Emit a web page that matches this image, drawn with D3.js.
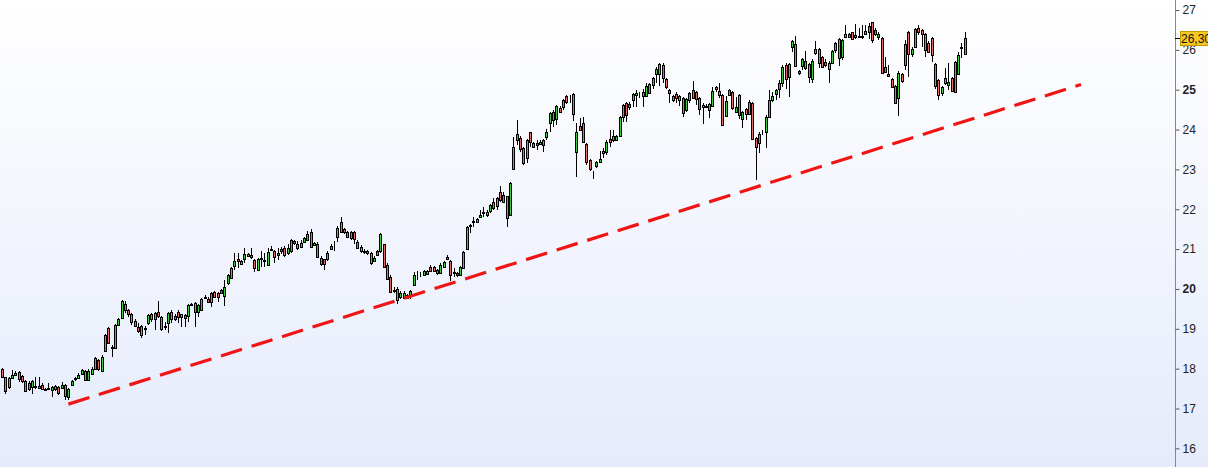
<!DOCTYPE html>
<html><head><meta charset="utf-8">
<script src="https://cdn.jsdelivr.net/npm/d3@7"></script>
<style>html,body{margin:0;padding:0;background:#fff;overflow:hidden}svg{display:block}</style>
</head><body>
<svg id="chart" width="1208" height="467"></svg>
<script>
const open = [
17.99,17.78,17.54,17.77,17.85,17.91,17.81,17.69,17.48,17.55,
17.55,17.52,17.60,17.49,17.48,17.46,17.56,17.54,17.52,17.60,
17.30,17.60,17.73,17.76,17.86,17.94,17.72,17.86,17.98,18.21,
17.94,18.45,19.03,18.53,18.53,19.10,19.28,19.62,19.47,19.37,
19.20,19.05,19.07,18.99,19.14,19.24,19.39,19.41,19.30,19.07,
19.14,19.43,19.25,19.41,19.36,19.34,19.32,19.62,19.64,19.43,
19.47,19.77,19.76,19.66,19.93,19.89,19.91,19.83,20.14,20.27,
20.58,20.74,20.70,20.74,20.88,20.86,20.73,20.48,20.77,20.71,
20.60,20.97,20.95,20.86,20.94,21.04,20.89,21.23,21.21,21.14,
21.06,21.18,21.37,21.42,21.10,21.12,20.78,20.74,20.74,21.01,
21.12,21.31,21.67,21.50,21.42,21.42,21.42,21.17,21.06,20.96,
20.95,20.89,20.71,20.85,20.94,21.12,20.60,20.31,19.97,20.01,
19.79,19.78,19.85,19.86,20.10,20.40,20.39,20.35,20.38,20.54,
20.54,20.47,20.41,20.56,20.74,20.70,20.42,20.41,20.35,20.53,
21.00,21.57,21.69,21.75,21.81,21.92,21.94,21.96,22.17,22.08,
22.44,22.36,22.32,21.86,23.01,23.90,23.80,23.53,23.29,23.93,
23.65,23.62,23.64,23.60,23.81,24.17,24.45,24.26,24.55,24.57,
24.84,24.78,24.88,23.43,24.09,24.17,23.64,23.24,22.87,23.09,
23.18,23.40,23.43,23.76,23.84,23.75,23.85,24.32,24.66,24.56,
24.73,24.87,24.85,24.93,24.85,25.14,25.12,25.39,25.39,25.62,
25.26,25.00,24.83,24.88,24.83,24.78,24.49,24.74,25.00,24.93,
24.78,24.56,24.59,24.49,24.60,25.06,24.97,24.87,24.35,24.87,
24.93,24.45,24.86,24.26,24.51,24.39,24.66,23.78,23.65,23.90,
23.95,24.31,24.74,24.89,25.18,25.18,25.62,25.31,26.06,26.14,
25.47,25.59,25.72,25.64,25.26,25.91,26.01,25.82,25.62,25.51,
25.68,26.00,26.26,25.83,26.31,26.33,26.44,26.31,26.35,26.33,
26.47,26.44,26.69,26.50,26.31,26.29,25.56,25.39,25.27,25.09,
24.78,25.39,25.62,26.44,25.89,26.06,26.54,26.51,26.40,26.18,
26.29,25.64,25.24,24.91,25.29,25.12,25.30,24.95,25.39,26.04,
25.89];

const high = [
18.02,17.80,17.80,17.97,17.93,17.93,17.85,17.72,17.68,17.71,
17.79,17.78,17.65,17.52,17.65,17.56,17.58,17.56,17.66,17.62,
17.52,17.72,17.80,17.88,17.98,17.96,17.98,18.03,18.30,18.23,
18.34,18.86,19.05,18.59,19.11,19.26,19.73,19.70,19.50,19.40,
19.25,19.14,19.10,19.06,19.38,19.39,19.41,19.70,19.33,19.18,
19.42,19.47,19.36,19.47,19.38,19.36,19.62,19.65,19.66,19.62,
19.78,19.84,19.79,19.93,19.96,19.92,20.00,20.22,20.38,20.54,
20.89,20.91,20.72,21.02,20.90,21.02,20.76,20.78,20.94,20.89,
21.02,21.08,20.98,21.02,21.05,21.07,21.13,21.26,21.24,21.20,
21.22,21.30,21.45,21.50,21.19,21.19,20.83,20.76,20.94,21.14,
21.21,21.57,21.81,21.53,21.46,21.45,21.45,21.22,21.10,21.00,
20.98,20.92,20.82,20.98,21.41,21.14,20.64,20.35,20.05,20.05,
19.95,19.94,19.88,19.98,20.43,20.46,20.43,20.47,20.48,20.60,
20.57,20.50,20.64,20.71,20.84,20.73,20.52,20.43,20.57,20.95,
21.59,21.64,21.81,21.78,21.98,22.06,21.97,22.14,22.27,22.31,
22.58,22.44,22.34,22.69,23.82,24.24,23.83,23.56,23.77,23.95,
23.68,23.74,23.73,23.77,24.01,24.45,24.48,24.61,24.58,24.76,
24.87,24.87,24.92,24.16,24.28,24.31,23.67,23.27,22.97,23.21,
23.46,23.53,23.75,23.99,23.99,23.87,24.34,24.65,24.69,24.70,
24.91,24.99,24.95,25.01,25.18,25.17,25.32,25.58,25.66,25.66,
25.29,25.03,24.86,24.93,24.86,24.82,24.79,24.95,25.23,24.96,
24.81,24.66,24.63,24.67,25.08,25.09,25.18,24.90,24.83,25.01,
24.96,24.81,24.89,24.46,24.54,24.74,24.69,23.81,23.93,24.00,
24.36,24.99,24.95,25.02,25.24,25.62,25.68,25.67,26.25,26.35,
25.50,25.79,25.98,25.67,25.76,26.23,26.04,25.85,25.76,25.71,
26.00,26.20,26.29,26.28,26.62,26.43,26.46,26.65,26.54,26.62,
26.62,26.68,26.71,26.54,26.44,26.32,25.83,25.62,25.30,25.12,
25.46,25.42,26.25,26.47,26.06,26.56,26.62,26.53,26.43,26.21,
26.32,25.67,25.27,25.09,25.54,25.68,25.33,25.72,25.95,26.16,
26.45];

const low = [
17.78,17.36,17.50,17.74,17.83,17.66,17.65,17.43,17.45,17.36,
17.50,17.50,17.48,17.45,17.47,17.28,17.45,17.35,17.50,17.22,
17.21,17.57,17.70,17.73,17.84,17.70,17.70,17.83,17.96,17.95,
17.92,18.42,18.62,18.30,18.50,19.08,19.25,19.40,19.30,19.10,
19.05,18.89,18.76,18.84,19.10,19.18,18.97,19.28,18.94,18.97,
18.89,19.14,19.20,19.14,19.05,19.04,19.18,19.56,19.04,19.30,
19.45,19.75,19.65,19.54,19.78,19.66,19.88,19.58,20.10,20.24,
20.48,20.52,20.60,20.64,20.80,20.76,20.42,20.45,20.56,20.56,
20.58,20.95,20.66,20.73,20.88,20.81,20.86,20.91,21.10,20.98,
21.03,21.15,21.20,21.03,21.07,20.79,20.57,20.48,20.71,20.98,
20.96,21.17,21.41,21.39,21.28,21.24,21.12,21.00,20.90,20.87,
20.85,20.61,20.68,20.82,20.91,20.53,20.22,19.90,19.90,19.62,
19.76,19.75,19.76,19.74,20.07,20.22,20.30,20.33,20.36,20.43,
20.43,20.36,20.38,20.53,20.72,20.19,20.31,20.30,20.33,20.50,
20.97,21.40,21.55,21.66,21.77,21.80,21.81,21.91,21.98,21.98,
22.19,22.16,21.56,21.83,22.98,23.61,23.44,23.11,23.15,23.57,
23.54,23.49,23.61,23.43,23.74,23.95,24.07,24.12,24.42,24.50,
24.65,24.66,24.22,22.82,23.96,23.65,23.11,22.97,22.75,23.03,
23.15,23.28,23.36,23.57,23.70,23.72,23.82,24.20,24.20,24.49,
24.57,24.57,24.78,24.56,24.83,24.88,25.01,25.16,25.09,25.16,
25.03,24.67,24.68,24.66,24.59,24.32,24.45,24.66,24.76,24.62,
24.37,24.14,24.53,24.28,24.58,24.95,24.78,24.09,24.32,24.83,
24.50,24.41,24.26,24.03,24.24,24.36,23.74,22.73,23.40,23.86,
23.53,24.29,24.70,24.74,24.78,25.08,25.03,24.81,25.95,25.58,
25.38,25.49,25.49,25.16,25.16,25.88,25.54,25.54,25.58,25.18,
25.66,25.91,25.60,25.75,26.29,26.30,26.25,26.26,26.29,26.27,
26.38,26.26,26.16,26.35,26.25,25.41,25.42,25.31,25.06,24.66,
24.34,25.18,25.49,25.33,25.83,26.04,26.37,26.06,25.83,25.91,
25.70,25.03,24.74,24.83,25.12,24.98,24.95,24.93,25.37,25.79,
25.87];

const close = [
17.80,17.44,17.77,17.85,17.90,17.75,17.70,17.45,17.64,17.69,
17.56,17.57,17.50,17.47,17.51,17.54,17.48,17.38,17.60,17.31,
17.50,17.68,17.76,17.83,17.96,17.72,17.95,17.99,18.27,17.98,
18.30,18.84,18.65,18.55,19.09,19.24,19.70,19.47,19.37,19.16,
19.08,18.94,18.84,19.03,19.35,19.36,19.24,19.32,18.99,19.04,
19.39,19.24,19.32,19.30,19.30,19.28,19.60,19.59,19.43,19.60,
19.75,19.81,19.67,19.91,19.81,19.81,19.97,20.04,20.35,20.52,
20.70,20.71,20.63,20.88,20.83,20.79,20.52,20.75,20.75,20.73,
20.92,20.99,20.79,20.89,21.00,20.85,21.02,20.94,21.15,21.02,
21.16,21.27,21.23,21.06,21.16,20.81,20.63,20.63,20.91,21.08,
21.14,21.54,21.44,21.42,21.31,21.29,21.25,21.04,20.94,20.92,
20.89,20.64,20.78,20.94,21.37,20.56,20.25,19.93,19.95,19.72,
19.91,19.91,19.78,19.95,20.35,20.41,20.41,20.45,20.45,20.46,
20.46,20.39,20.60,20.68,20.81,20.35,20.39,20.34,20.54,20.92,
21.56,21.61,21.71,21.69,21.85,21.90,21.86,22.11,22.02,22.27,
22.22,22.19,21.77,22.65,23.55,23.74,23.50,23.17,23.74,23.70,
23.57,23.66,23.70,23.74,23.95,24.42,24.24,24.58,24.45,24.73,
24.68,24.79,24.38,23.93,23.99,23.68,23.19,23.00,22.85,23.18,
23.26,23.45,23.68,23.68,23.75,23.84,24.31,24.62,24.37,24.64,
24.88,24.91,24.83,24.85,25.10,24.91,25.29,25.52,25.64,25.29,
25.06,24.91,24.73,24.78,24.74,24.41,24.76,24.91,24.78,24.76,
24.51,24.62,24.56,24.64,24.97,25.01,24.87,24.11,24.72,24.98,
24.53,24.57,24.37,24.43,24.38,24.70,23.76,23.55,23.90,23.89,
24.32,24.74,24.83,24.99,25.01,25.56,25.26,25.64,26.22,25.60,
25.41,25.76,25.54,25.31,25.73,26.01,25.66,25.58,25.70,25.68,
25.97,26.16,25.79,26.25,26.40,26.40,26.26,26.37,26.33,26.35,
26.40,26.61,26.25,26.40,26.41,25.43,25.45,25.34,25.08,24.67,
25.43,25.23,26.15,25.89,26.01,26.52,26.44,26.41,26.00,25.94,
25.87,25.09,24.87,25.06,25.18,25.20,24.97,25.69,25.87,26.06,
26.30];

const yTicks = [16,17,18,19,20,21,22,23,24,25,26,27];
const boldTicks = [20,25];
const lastPrice = 26.30;
const lastPriceLabel = "26,30";
const trendIndex = [20, 325];
const trendPrice = [17.11, 25.13];

const W = 1208, H = 467;
const svg = d3.select("#chart");
const defs = svg.append("defs");
const grad = defs.append("linearGradient").attr("id","bg").attr("x1",0).attr("y1",0).attr("x2",0).attr("y2",1);
grad.append("stop").attr("offset","0%").attr("stop-color","#ffffff");
grad.append("stop").attr("offset","100%").attr("stop-color","#e5ebfb");
svg.append("rect").attr("width",W).attr("height",H).attr("fill","url(#bg)");

const x = d3.scaleLinear().domain([0, 290]).range([2, 964.8]);
const y = d3.scaleLinear().domain([15.532, 27.251]).range([H, 0]);

const data = open.map((o,i)=>({i, o, h: high[i], l: low[i], c: close[i]}));

const g = svg.append("g");
const left = d => Math.round(x(d.i)) - 1;
g.selectAll("line.wick").data(data).join("line")
  .attr("class","wick")
  .attr("x1", d => left(d) + 1.5).attr("x2", d => left(d) + 1.5)
  .attr("y1", d => Math.round(y(d.h))).attr("y2", d => Math.round(y(d.l)))
  .attr("stroke","#000").attr("stroke-width",1);
g.selectAll("rect.body").data(data).join("rect")
  .attr("class","body")
  .attr("x", d => left(d) + 0.5)
  .attr("y", d => Math.round(y(Math.max(d.o,d.c))) + 0.5)
  .attr("width", 2)
  .attr("height", d => Math.max(0, Math.round(y(Math.min(d.o,d.c))) - Math.round(y(Math.max(d.o,d.c)))))
  .attr("fill", d => d.c >= d.o ? "#3ecb3e" : "#e56a6a")
  .attr("stroke","#000").attr("stroke-width",1);

// trendline
svg.append("line")
  .attr("x1", x(trendIndex[0])).attr("y1", y(trendPrice[0]))
  .attr("x2", x(trendIndex[1])).attr("y2", y(trendPrice[1]))
  .attr("stroke","#f01414").attr("stroke-width",3.2)
  .attr("stroke-dasharray","22,10");

// axis
const axisX = 1175;
const ax = svg.append("g").attr("transform",`translate(${axisX + 0.5},0)`)
  .call(d3.axisRight(y).tickValues(yTicks).tickSize(4).tickPadding(3).tickFormat(d3.format("d")));
ax.select(".domain").attr("stroke","#7e8a9c").attr("d", `M0,0V${H}`);
ax.selectAll(".tick line").attr("stroke","#555");
ax.selectAll(".tick text")
  .attr("fill","#222")
  .style("font-family","'Liberation Sans', Arial, sans-serif")
  .style("font-size","12px")
  .style("font-weight", d => boldTicks.includes(d) ? "bold" : "normal");

// last price label
const ly = Math.round(y(lastPrice));
svg.append("line").attr("x1",axisX).attr("x2",axisX+5).attr("y1",ly+0.5).attr("y2",ly+0.5).attr("stroke","#000");
svg.append("rect").attr("x",1180.5).attr("y",ly-6.5).attr("width",30).attr("height",14)
  .attr("fill","#f7c81c").attr("stroke","#c49a00");
svg.append("text").attr("x",1181).attr("y",ly+0.5).attr("dy","0.35em")
  .attr("fill","#111")
  .style("font-family","'Liberation Sans', Arial, sans-serif").style("font-size","12px")
  .text(lastPriceLabel);
</script>
</body></html>
